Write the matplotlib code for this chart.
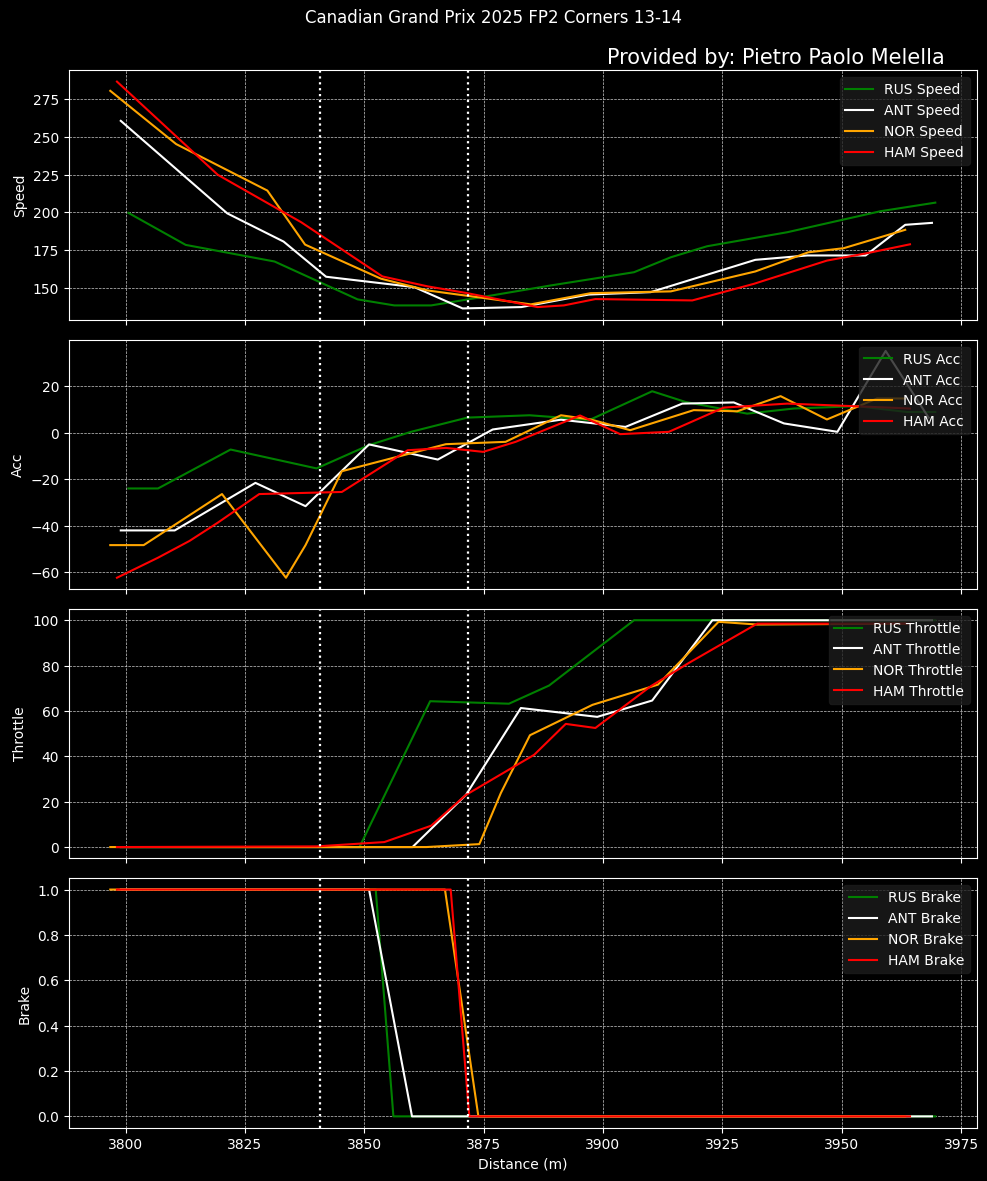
import matplotlib
matplotlib.use("Agg")
import matplotlib.pyplot as plt

plt.style.use("dark_background")

drivers = ["RUS", "ANT", "NOR", "HAM"]
colors = ["green", "white", "orange", "red"]
corner_marks = [3840.8, 3871.8]

# speed
rus_spd_x = [3800.6, 3812.6, 3831.2, 3848.6, 3856.3, 3864.0, 3875.0, 3889.0, 3898.0, 3906.5, 3914.2, 3921.8, 3938.6, 3958.1, 3969.6]
rus_spd = [199.6, 178.4, 167.4, 142.3, 138.3, 138.3, 144.0, 151.5, 156.0, 160.3, 170.2, 177.5, 186.8, 200.7, 206.4]
ant_spd_x = [3799.0, 3821.3, 3833.1, 3842.0, 3860.5, 3870.6, 3882.9, 3897.0, 3910.0, 3931.9, 3942.8, 3955.0, 3963.3, 3968.9]
ant_spd = [260.6, 199.3, 180.6, 157.3, 150.4, 136.3, 137.2, 145.5, 147.1, 168.5, 171.4, 171.4, 191.7, 193.0]
nor_spd_x = [3796.8, 3810.6, 3829.7, 3837.6, 3853.5, 3863.3, 3884.9, 3897.4, 3914.2, 3931.9, 3943.0, 3950.4, 3963.3]
nor_spd = [280.5, 245.2, 214.4, 178.6, 156.0, 148.2, 139.0, 146.4, 147.6, 160.8, 173.5, 176.2, 188.4]
ham_spd_x = [3798.2, 3819.3, 3836.8, 3853.8, 3863.3, 3871.6, 3886.3, 3891.8, 3898.4, 3918.7, 3931.6, 3946.9, 3955.3, 3964.3]
ham_spd = [286.6, 224.9, 193.4, 157.5, 150.9, 146.4, 137.2, 138.3, 142.5, 141.6, 152.6, 168.0, 172.9, 178.8]

# acceleration
rus_acc_x = [3800.6, 3806.8, 3822.0, 3840.0, 3851.0, 3859.8, 3871.6, 3884.6, 3891.2, 3897.1, 3910.3, 3917.3, 3930.2, 3940.0, 3953.2, 3963.7, 3969.6]
rus_acc = [-24.0, -24.0, -7.3, -15.4, -5.4, 0.3, 6.4, 7.4, 6.4, 5.3, 17.7, 13.1, 8.1, 10.3, 11.3, 8.8, 8.8]
ant_acc_x = [3799.0, 3810.3, 3827.2, 3837.7, 3851.0, 3865.4, 3876.9, 3891.2, 3904.7, 3916.6, 3927.4, 3937.9, 3949.1, 3959.2, 3968.2]
ant_acc = [-42.0, -42.0, -21.6, -31.6, -5.1, -11.6, 1.3, 5.5, 2.4, 12.4, 12.9, 3.9, 0.3, 35.0, 6.4]
nor_acc_x = [3796.8, 3803.8, 3820.2, 3833.6, 3837.7, 3845.3, 3867.1, 3879.6, 3891.2, 3897.4, 3905.7, 3919.0, 3928.1, 3937.2, 3946.9, 3957.4, 3963.3]
nor_acc = [-48.3, -48.3, -26.4, -62.3, -48.3, -16.6, -5.0, -4.0, 7.4, 5.6, 1.0, 9.6, 9.1, 15.6, 5.6, 14.6, 14.6]
ham_acc_x = [3798.2, 3806.8, 3813.4, 3819.3, 3828.0, 3845.3, 3859.1, 3867.1, 3874.9, 3881.7, 3895.2, 3903.6, 3913.8, 3925.3, 3938.6, 3952.5, 3964.3]
ham_acc = [-62.3, -53.7, -46.5, -38.7, -26.4, -25.5, -7.6, -6.6, -8.3, -4.0, 7.3, -0.7, 0.3, 10.7, 12.4, 11.3, 10.3]

# throttle
rus_thr_x = [3800.6, 3849.0, 3863.8, 3880.3, 3888.7, 3906.5, 3969.6]
rus_thr = [0, 0, 64.3, 63.2, 71.2, 100, 100]
ant_thr_x = [3799.0, 3860.1, 3871.3, 3882.8, 3898.8, 3910.3, 3922.9, 3968.9]
ant_thr = [0, 0, 23.0, 61.3, 57.4, 64.6, 100, 100]
nor_thr_x = [3796.8, 3863.0, 3874.1, 3878.6, 3884.7, 3897.8, 3911.5, 3924.2, 3932.3, 3963.3]
nor_thr = [0, 0, 1.3, 23.8, 49.3, 62.7, 71.6, 99.3, 98.1, 98.5]
ham_thr_x = [3798.2, 3840.0, 3854.2, 3864.0, 3871.3, 3885.6, 3892.2, 3898.4, 3910.0, 3918.0, 3932.3, 3964.3]
ham_thr = [0, 0.3, 2.2, 9.4, 23.0, 40.7, 54.3, 52.5, 70.9, 81.2, 98.5, 98.5]

# brake
rus_brk_x = [3800.6, 3852.4, 3856.1, 3969.6]
rus_brk = [1, 1, 0, 0]
ant_brk_x = [3799.0, 3851.0, 3860.0, 3968.9]
ant_brk = [1, 1, 0, 0]
nor_brk_x = [3796.8, 3866.9, 3873.9, 3963.3]
nor_brk = [1, 1, 0, 0]
ham_brk_x = [3798.2, 3868.1, 3872.0, 3964.3]
ham_brk = [1, 1, 0, 0]

panels = [
    ("Speed", [(rus_spd_x, rus_spd), (ant_spd_x, ant_spd), (nor_spd_x, nor_spd), (ham_spd_x, ham_spd)]),
    ("Acc", [(rus_acc_x, rus_acc), (ant_acc_x, ant_acc), (nor_acc_x, nor_acc), (ham_acc_x, ham_acc)]),
    ("Throttle", [(rus_thr_x, rus_thr), (ant_thr_x, ant_thr), (nor_thr_x, nor_thr), (ham_thr_x, ham_thr)]),
    ("Brake", [(rus_brk_x, rus_brk), (ant_brk_x, ant_brk), (nor_brk_x, nor_brk), (ham_brk_x, ham_brk)]),
]

fig, axes = plt.subplots(4, 1, figsize=(9.875, 11.815), dpi=100, sharex=True)
fig.subplots_adjust(left=0.0699, right=0.9889, top=0.9401, bottom=0.0451, hspace=0.0794)

for ax, (name, series) in zip(axes, panels):
    for drv, col, (xs, ys) in zip(drivers, colors, series):
        ax.plot(xs, ys, color=col, linewidth=1.5, label=f"{drv} {name}")
    for d in corner_marks:
        ax.axvline(d, color="white", linestyle=":", linewidth=1.6)
    ax.set_ylabel(name)
    ax.grid(True, linestyle="--", linewidth=0.5, color="#cccccc")
    ax.legend(loc="upper right", facecolor="#1c1c1c", edgecolor="#1c1c1c", framealpha=0.8)

axes[-1].set_xlabel("Distance (m)")
axes[1].set_yticks([-60, -40, -20, 0, 20])

fig.suptitle("Canadian Grand Prix 2025 FP2 Corners 13-14", fontsize=12, y=0.992)
fig.text(0.957, 0.951, "Provided by: Pietro Paolo Melella", fontsize=15, ha="right", va="center")

fig.savefig("out.png", dpi=100, facecolor="black")
